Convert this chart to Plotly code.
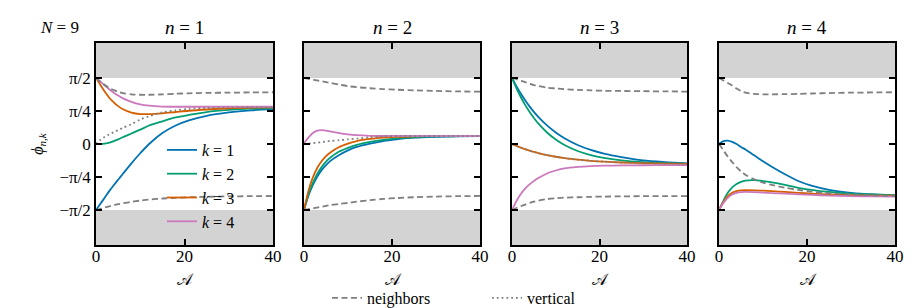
import plotly.graph_objects as go
import math

# ---------------- data ----------------
A_vals = [0, 1, 2, 3, 4, 5, 6, 8, 10, 12, 15, 18, 21, 25, 30, 35, 40]

panel_titles = ["<i>n</i> = 1", "<i>n</i> = 2", "<i>n</i> = 3", "<i>n</i> = 4"]
k_labels = ["<i>k</i> = 1", "<i>k</i> = 2", "<i>k</i> = 3", "<i>k</i> = 4"]

# n = 1
n1_k1 = [-1.571, -1.42, -1.27, -1.12, -0.98, -0.85, -0.72, -0.46, -0.22, 0.0, 0.26, 0.44, 0.56, 0.67, 0.75, 0.80, 0.83]
n1_k2 = [0.0, 0.0, 0.01, 0.03, 0.07, 0.11, 0.16, 0.25, 0.34, 0.44, 0.54, 0.63, 0.69, 0.76, 0.81, 0.84, 0.855]
n1_k3 = [1.571, 1.40, 1.24, 1.10, 0.99, 0.90, 0.83, 0.745, 0.71, 0.71, 0.73, 0.76, 0.79, 0.82, 0.85, 0.865, 0.87]
n1_k4 = [1.571, 1.48, 1.39, 1.30, 1.22, 1.15, 1.09, 1.00, 0.94, 0.91, 0.89, 0.885, 0.885, 0.885, 0.885, 0.885, 0.885]
n1_nb_up = [1.571, 1.48, 1.40, 1.33, 1.28, 1.24, 1.21, 1.18, 1.17, 1.17, 1.18, 1.195, 1.205, 1.215, 1.22, 1.225, 1.23]
n1_nb_lo = [-1.571, -1.54, -1.51, -1.48, -1.455, -1.43, -1.41, -1.375, -1.345, -1.32, -1.295, -1.28, -1.265, -1.255, -1.245, -1.24, -1.235]
n1_vert = [0.0, 0.10, 0.17, 0.23, 0.28, 0.33, 0.38, 0.47, 0.58, 0.66, 0.75, 0.80, 0.835, 0.855, 0.865, 0.87, 0.87]

# n = 2
n2_k1 = [-1.571, -1.23, -0.98, -0.78, -0.62, -0.50, -0.40, -0.26, -0.15, -0.07, 0.01, 0.07, 0.11, 0.15, 0.17, 0.18, 0.185]
n2_k2 = [-1.571, -1.20, -0.93, -0.71, -0.55, -0.42, -0.32, -0.18, -0.09, -0.02, 0.05, 0.10, 0.135, 0.16, 0.18, 0.185, 0.19]
n2_k3 = [-1.571, -1.12, -0.80, -0.57, -0.41, -0.29, -0.20, -0.07, 0.01, 0.07, 0.12, 0.15, 0.17, 0.18, 0.19, 0.19, 0.19]
n2_k4 = [0.02, 0.15, 0.26, 0.32, 0.33, 0.32, 0.30, 0.26, 0.23, 0.21, 0.195, 0.19, 0.19, 0.19, 0.19, 0.19, 0.19]
n2_nb_up = [1.571, 1.55, 1.53, 1.51, 1.49, 1.47, 1.45, 1.41, 1.375, 1.35, 1.325, 1.305, 1.29, 1.275, 1.26, 1.25, 1.245]
n2_nb_lo = [-1.571, -1.55, -1.53, -1.51, -1.49, -1.47, -1.45, -1.425, -1.40, -1.37, -1.335, -1.305, -1.285, -1.265, -1.25, -1.24, -1.235]
n2_vert = [0.0, 0.01, 0.02, 0.03, 0.045, 0.06, 0.07, 0.09, 0.11, 0.13, 0.16, 0.18, 0.19, 0.19, 0.19, 0.19, 0.19]

# n = 3
n3_k1 = [1.571, 1.375, 1.198, 1.039, 0.894, 0.764, 0.645, 0.441, 0.274, 0.137, -0.023, -0.142, -0.229, -0.312, -0.39, -0.43, -0.46]
n3_k2 = [1.571, 1.329, 1.117, 0.929, 0.764, 0.617, 0.488, 0.274, 0.108, -0.023, -0.166, -0.264, -0.332, -0.39, -0.432, -0.454, -0.466]
n3_k3 = [0.0, -0.046, -0.087, -0.124, -0.158, -0.189, -0.216, -0.264, -0.303, -0.336, -0.373, -0.40, -0.42, -0.44, -0.456, -0.466, -0.471]
n3_k4 = [-1.571, -1.36, -1.19, -1.06, -0.96, -0.88, -0.81, -0.70, -0.63, -0.58, -0.545, -0.525, -0.515, -0.51, -0.505, -0.50, -0.50]
n3_nb_up = [1.571, 1.54, 1.51, 1.47, 1.43, 1.40, 1.38, 1.34, 1.32, 1.30, 1.285, 1.275, 1.265, 1.26, 1.255, 1.25, 1.245]
n3_nb_lo = [-1.571, -1.52, -1.48, -1.44, -1.40, -1.37, -1.345, -1.31, -1.29, -1.275, -1.265, -1.255, -1.25, -1.245, -1.24, -1.24, -1.24]
n3_vert = [0.0, -0.046, -0.087, -0.124, -0.158, -0.189, -0.216, -0.264, -0.303, -0.336, -0.373, -0.40, -0.42, -0.44, -0.456, -0.466, -0.471]

# n = 4
n4_k1 = [0.0, 0.07, 0.08, 0.05, 0.0, -0.07, -0.13, -0.27, -0.41, -0.54, -0.72, -0.88, -0.99, -1.09, -1.16, -1.20, -1.22]
n4_k2 = [-1.571, -1.35, -1.16, -1.03, -0.95, -0.90, -0.87, -0.86, -0.88, -0.91, -0.97, -1.04, -1.09, -1.14, -1.18, -1.20, -1.215]
n4_k3 = [-1.571, -1.38, -1.24, -1.16, -1.12, -1.10, -1.095, -1.10, -1.11, -1.12, -1.14, -1.16, -1.18, -1.20, -1.215, -1.225, -1.23]
n4_k4 = [-1.571, -1.40, -1.28, -1.20, -1.16, -1.145, -1.14, -1.145, -1.155, -1.165, -1.18, -1.195, -1.21, -1.225, -1.24, -1.245, -1.25]
n4_nb_up = [1.571, 1.51, 1.45, 1.39, 1.32, 1.26, 1.22, 1.19, 1.18, 1.18, 1.185, 1.19, 1.20, 1.21, 1.22, 1.225, 1.23]
n4_nb_lo = [0.0, -0.15, -0.30, -0.43, -0.55, -0.65, -0.73, -0.84, -0.92, -0.97, -1.04, -1.09, -1.13, -1.17, -1.20, -1.22, -1.235]

panels = [
    dict(k=[n1_k1, n1_k2, n1_k3, n1_k4], nb=[n1_nb_up, n1_nb_lo], vert=n1_vert),
    dict(k=[n2_k1, n2_k2, n2_k3, n2_k4], nb=[n2_nb_up, n2_nb_lo], vert=n2_vert),
    dict(k=[n3_k1, n3_k2, n3_k3, n3_k4], nb=[n3_nb_up, n3_nb_lo], vert=n3_vert),
    dict(k=[n4_k1, n4_k2, n4_k3, n4_k4], nb=[n4_nb_up, n4_nb_lo], vert=None),
]

y_tickvals = [-math.pi / 2, -math.pi / 4, 0, math.pi / 4, math.pi / 2]
y_ticktext = ["−π/2", "−π/4", "0", "π/4", "π/2"]
x_tickvals = [0, 20, 40]

# ---------------- style ----------------
k_colors = ["#0173b2", "#029e73", "#d55e00", "#cc78bc"]
gray = "#7f7f7f"
FONT = "Times New Roman, Liberation Serif, Times, serif"
W, H = 923, 308
x_px = [(96, 273), (304, 480), (512, 687), (719, 895)]
y_px = (43, 245)
YR = 2.4

fig = go.Figure()

for i, p in enumerate(panels):
    xa = "x" if i == 0 else f"x{i+1}"
    ya = "y" if i == 0 else f"y{i+1}"
    for j, series in enumerate(p["k"]):
        fig.add_trace(go.Scatter(
            x=A_vals, y=series, mode="lines", xaxis=xa, yaxis=ya,
            line=dict(color=k_colors[j], width=1.8, shape="spline", smoothing=0.8),
            name=k_labels[j], legend="legend", showlegend=(i == 0)))
    for j, series in enumerate(p["nb"]):
        fig.add_trace(go.Scatter(
            x=A_vals, y=series, mode="lines", xaxis=xa, yaxis=ya,
            line=dict(color=gray, width=1.8, dash="6px,3.5px", shape="spline", smoothing=0.8),
            name="neighbors", legend="legend2", showlegend=(i == 0 and j == 0)))
    if p["vert"] is not None:
        fig.add_trace(go.Scatter(
            x=A_vals, y=p["vert"], mode="lines", xaxis=xa, yaxis=ya,
            line=dict(color=gray, width=1.8, dash="1.8px,3px", shape="spline", smoothing=0.8),
            name="vertical", legend="legend2", showlegend=(i == 0)))

    # gray shading outside [-pi/2, pi/2]
    for y0, y1 in [(math.pi / 2, YR), (-YR, -math.pi / 2)]:
        fig.add_shape(type="rect", xref=f"{xa} domain", yref=ya, x0=0, x1=1, y0=y0, y1=y1,
                      fillcolor="#d3d3d3", line_width=0, layer="below")

    dom_x = [x_px[i][0] / W, x_px[i][1] / W]
    dom_y = [1 - y_px[1] / H, 1 - y_px[0] / H]
    axis_common = dict(showline=True, mirror="ticks", linecolor="black", linewidth=1.5,
                       ticks="inside", ticklen=6, tickwidth=1.5, tickcolor="black",
                       showgrid=False, zeroline=False, automargin=False,
                       tickfont=dict(family=FONT, size=17, color="black"))
    xkey = "xaxis" if i == 0 else f"xaxis{i+1}"
    ykey = "yaxis" if i == 0 else f"yaxis{i+1}"
    ydict = dict(domain=dom_y, range=[-YR, YR], tickvals=y_tickvals, ticktext=y_ticktext,
                 showticklabels=(i == 0), anchor=xa, **axis_common)
    if i == 0:
        ydict["title"] = dict(text="<i>ϕ</i><sub><i>n,k</i></sub>",
                              font=dict(family=FONT, size=16, color="black"), standoff=12)
    fig.update_layout(**{
        xkey: dict(domain=dom_x, range=[0, 40], tickvals=x_tickvals, anchor=ya,
                   ticklabelstandoff=-5,
                   title=dict(text="𝒜", font=dict(family=FONT, size=16, color="black"), standoff=9),
                   **axis_common),
        ykey: ydict,
    })
    fig.add_annotation(text=panel_titles[i], xref="paper", yref="paper",
                       x=(x_px[i][0] + x_px[i][1]) / 2 / W, y=1 - 27 / H,
                       xanchor="center", yanchor="middle", showarrow=False,
                       font=dict(family=FONT, size=19, color="black"))

fig.add_annotation(text="<i>N</i> = 9", xref="paper", yref="paper", x=60 / W, y=1 - 27 / H,
                   xanchor="center", yanchor="middle", showarrow=False,
                   font=dict(family=FONT, size=17, color="black"))

fig.update_layout(
    width=W, height=H, margin=dict(l=0, r=0, t=0, b=0, autoexpand=False),
    paper_bgcolor="white", plot_bgcolor="white",
    font=dict(family=FONT),
    legend=dict(x=162 / W, y=1 - 133 / H, xanchor="left", yanchor="top",
                bgcolor="rgba(0,0,0,0)", font=dict(family=FONT, size=16, color="black"),
                tracegroupgap=0),
    legend2=dict(orientation="h", x=327 / W, y=1 - 298 / H, xanchor="left", yanchor="middle",
                 entrywidth=115, entrywidthmode="pixels",
                 bgcolor="rgba(0,0,0,0)", font=dict(family=FONT, size=16, color="black")),
)

fig.write_html("out.html")
